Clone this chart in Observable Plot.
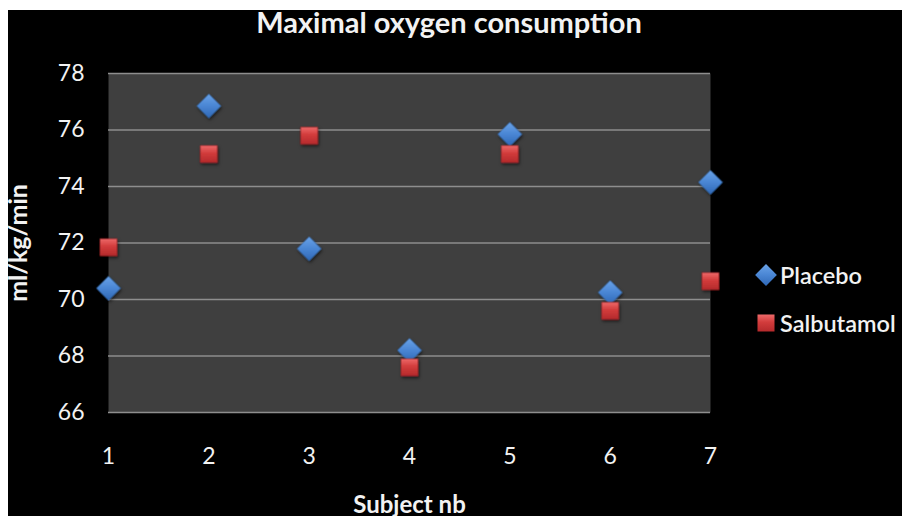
<!DOCTYPE html>
<html>
<head>
<meta charset="utf-8">
<script src="https://cdn.jsdelivr.net/npm/d3@7"></script>
<script src="https://cdn.jsdelivr.net/npm/@observablehq/plot@0.6"></script>
<style>
  html, body { margin: 0; padding: 0; background: #000; }
  #wrap { position: relative; width: 902px; height: 516px; overflow: hidden; background: #000; font-family: Lato, "Open Sans", sans-serif; }
  #wrap svg { display: block; }
  .edge { position: absolute; background: #fff; }
  #title { position: absolute; left: 0; width: 902px; top: 4px; text-align: center; color: #f2f2f2; font-weight: 700; font-size: 29px; transform: translateX(-2px); }
  #legend { position: absolute; left: 753px; top: 251px; color: #f2f2f2; font-size: 23.5px; font-weight: 600; white-space: nowrap; }
  #legend div { display: flex; align-items: center; height: 48px; }
  #legend svg { margin-right: 1px; }
</style>
</head>
<body>
<div id="wrap">
  <div id="title">Maximal oxygen consumption</div>
  <div id="legend"></div>
  <div class="edge" style="left:0;top:0;width:902px;height:10px"></div>
  <div class="edge" style="left:0;top:0;width:8px;height:516px"></div>
</div>
<script>
// Subjects and VO2max (ml/kg/min) under each treatment
const subjects = [1, 2, 3, 4, 5, 6, 7];
const placebo = [70.4, 76.85, 71.8, 68.2, 75.85, 70.25, 74.15];
const salbutamol = [71.85, 75.15, 75.8, 67.6, 75.15, 69.6, 70.65];
const seriesNames = ["Placebo", "Salbutamol"];
const yTicks = [66, 68, 70, 72, 74, 76, 78];

const rows = subjects.flatMap((s, i) => [
  {subject: s, series: seriesNames[0], value: placebo[i]},
  {subject: s, series: seriesNames[1], value: salbutamol[i]}
]);

const chart = Plot.plot({
  width: 902,
  height: 516,
  marginLeft: 108,
  marginRight: 192,
  marginTop: 73,
  marginBottom: 104,
  style: {background: "#000", color: "#f2f2f2", fontFamily: "Lato, 'Open Sans', sans-serif", fontSize: "23px", overflow: "visible"},
  x: {domain: [1, 7]},
  y: {domain: [66, 78]},
  marks: [
    Plot.frame({fill: "#3f3f3f", stroke: null}),
    Plot.gridY(yTicks, {stroke: "#8e8e8e", strokeOpacity: 1, strokeWidth: 1.6}),
    Plot.axisX({ticks: subjects, tickFormat: d => String(d), tickSize: 0, tickPadding: 35, label: null, fontSize: 23}),
    Plot.axisY({ticks: yTicks, tickFormat: d => String(d), tickSize: 0, tickPadding: 24, label: null, fontSize: 23}),
    Plot.axisX({ticks: [], tickSize: 0, label: "Subject nb", labelAnchor: "center", labelArrow: "none", labelOffset: 100, fontSize: 24, fontWeight: 700}),
    Plot.axisY({ticks: [], tickSize: 0, label: "ml/kg/min", labelAnchor: "center", labelArrow: "none", labelOffset: 99, fontSize: 25, fontWeight: 700}),
    Plot.dot(rows.filter(d => d.series === "Placebo"), {x: "subject", y: "value", symbol: "diamond2", r: 10.8, fill: "url(#gBlue)", stroke: "#2f64a8", strokeWidth: 0.6}),
    Plot.dot(rows.filter(d => d.series === "Salbutamol"), {x: "subject", y: "value", symbol: "square", r: 9.6, fill: "url(#gRed)", stroke: "#9e2326", strokeWidth: 0.6})
  ]
});

// Gradients giving the markers their glossy look, plus a soft shadow
const defs = `
<defs>
  <linearGradient id="gBlue" x1="0" y1="0" x2="0" y2="1">
    <stop offset="0" stop-color="#6aa3e8"/>
    <stop offset="0.5" stop-color="#4a86d4"/>
    <stop offset="1" stop-color="#2f68b6"/>
  </linearGradient>
  <linearGradient id="gRed" x1="0" y1="0" x2="0" y2="1">
    <stop offset="0" stop-color="#ee6a6a"/>
    <stop offset="0.45" stop-color="#d23c3c"/>
    <stop offset="1" stop-color="#b52a2c"/>
  </linearGradient>
  <filter id="shadow" x="-50%" y="-50%" width="200%" height="200%">
    <feDropShadow dx="1" dy="2" stdDeviation="1.5" flood-color="#000" flood-opacity="0.55"/>
  </filter>
</defs>`;
chart.insertAdjacentHTML("afterbegin", defs);
chart.querySelectorAll("g[aria-label='dot']").forEach(g => g.setAttribute("filter", "url(#shadow)"));

const wrap = document.getElementById("wrap");
wrap.insertBefore(chart, wrap.firstChild);

// Legend built from the series names with the same symbols
const legend = document.getElementById("legend");
const sym = {
  Placebo: d3.symbol(d3.symbolDiamond2, Math.PI * 9.8 * 9.8)(),
  Salbutamol: d3.symbol(d3.symbolSquare, Math.PI * 9.6 * 9.6)()
};
const fills = {Placebo: "url(#gBlue)", Salbutamol: "url(#gRed)"};
seriesNames.forEach(name => {
  const row = document.createElement("div");
  row.innerHTML = `<svg width="26" height="26" viewBox="-13 -13 26 26"><path d="${sym[name]}" fill="${fills[name]}"/></svg><span>${name}</span>`;
  legend.appendChild(row);
});
</script>
</body>
</html>
